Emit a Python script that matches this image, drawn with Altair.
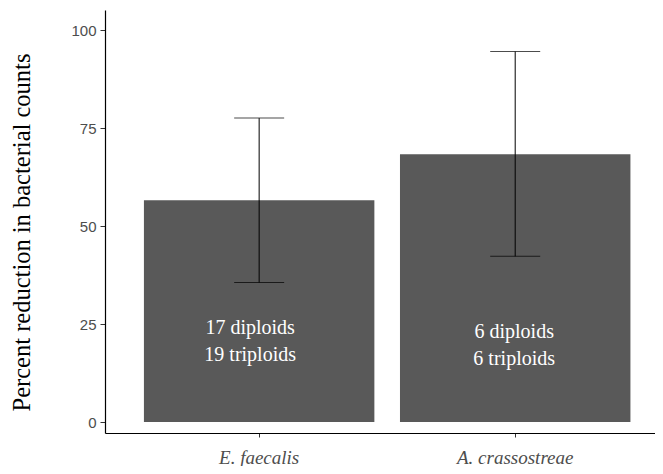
import altair as alt
import pandas as pd

species = ["E. faecalis", "A. crassostreae"]
mean_reduction = [56.6, 68.4]
err_low = [35.6, 42.3]
err_high = [77.6, 94.6]
line1 = ["17 diploids", "6 diploids"]
line2 = ["19 triploids", "6 triploids"]
label_y = [22.5, 21.5]

df = pd.DataFrame({
    "species": species,
    "mean": mean_reduction,
    "lo": err_low,
    "hi": err_high,
    "label": [[a, b] for a, b in zip(line1, line2)],
    "label_y": label_y,
})

xscale = alt.Scale(domain=species, paddingInner=0.1, paddingOuter=0.124, align=0.613)
yscale = alt.Scale(domain=[-2.8, 105.2], nice=False, zero=False)

x = alt.X("species:N", scale=xscale, sort=species, title=None,
          axis=alt.Axis(labelAngle=0, labelFont="Liberation Serif", labelFontStyle="italic",
                        labelFontSize=19, labelColor="#4d4d4d", tickColor="#333333",
                        tickSize=4, labelPadding=11, domainColor="#000000", domainWidth=1.2))

bars = alt.Chart(df).mark_bar(color="#595959").encode(
    x=x,
    y=alt.Y("mean:Q", scale=yscale,
            title="Percent reduction in bacterial counts",
            axis=alt.Axis(values=[0, 25, 50, 75, 100], grid=False,
                          labelFont="Liberation Sans", labelFontSize=15, labelColor="#4d4d4d",
                          tickColor="#333333", tickSize=5, labelPadding=4,
                          domainColor="#000000", domainWidth=1.2,
                          titleFont="Liberation Serif", titleFontSize=24.5, titleFontWeight="normal",
                          titleColor="#000000", titleX=-76, titleY=222, titleAngle=-90,
                          titleAlign="center", titleBaseline="alphabetic")),
    y2=alt.datum(0),
)

rule = alt.Chart(df).mark_rule(color="#000000", strokeWidth=1).encode(
    x=alt.X("species:N", scale=xscale, sort=species),
    y=alt.Y("lo:Q", scale=yscale),
    y2="hi:Q",
)

cap_hi = alt.Chart(df).mark_tick(color="#000000", thickness=1, size=50, orient="horizontal").encode(
    x=alt.X("species:N", scale=xscale, sort=species),
    y=alt.Y("hi:Q", scale=yscale),
)
cap_lo = alt.Chart(df).mark_tick(color="#000000", thickness=1, size=50, orient="horizontal").encode(
    x=alt.X("species:N", scale=xscale, sort=species),
    y=alt.Y("lo:Q", scale=yscale),
)

def text_layer(name, dx):
    return alt.Chart(df).transform_filter(alt.datum.species == name).mark_text(
        color="white", font="Liberation Serif", fontSize=20, lineHeight=27.5,
        baseline="alphabetic", align="center", dx=dx
    ).encode(
        x=alt.X("species:N", scale=xscale, sort=species),
        y=alt.Y("label_y:Q", scale=yscale),
        text="label",
    )

chart = alt.layer(
    bars, rule, cap_hi, cap_lo,
    text_layer("E. faecalis", -9), text_layer("A. crassostreae", -1),
).properties(
    width=550, height=423,
    autosize=alt.AutoSizeParams(type="none"),
    padding={"left": 97, "top": 2, "right": 0, "bottom": 33},
    background="white",
).configure_view(stroke=None)

chart.save("out.html", embed_options={"renderer": "svg", "actions": False})
